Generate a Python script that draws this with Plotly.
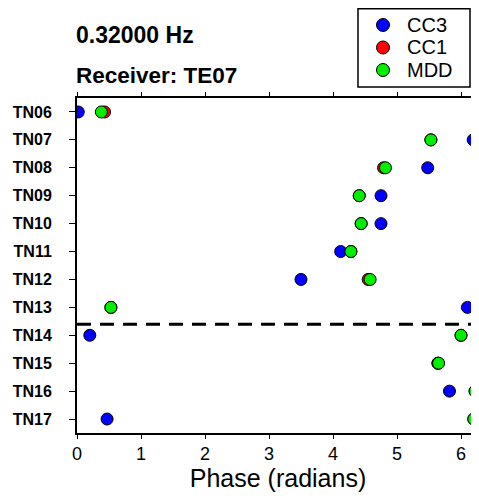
import plotly.graph_objects as go

# stations, top to bottom
stations = ["TN06", "TN07", "TN08", "TN09", "TN10", "TN11",
            "TN12", "TN13", "TN14", "TN15", "TN16", "TN17"]

# phase (radians) per method
cc3 = [0.02, 6.19, 5.48, 4.75, 4.75, 4.12, 3.50, 6.10, 0.20, 5.64, 5.82, 0.47]
cc1 = [0.43, 5.53, 4.79, 4.41, 4.44, 4.28, 4.55, 0.53, 6.00, 5.64, 6.22, 6.20]
mdd = [0.38, 5.53, 4.82, 4.41, 4.44, 4.28, 4.58, 0.53, 6.00, 5.65, 6.22, 6.20]

freq_label = "0.32000 Hz"
receiver_label = "Receiver: TE07"
split_pos = 7.6  # dashed separator between TN13 and TN14

# figure sits 8px in from the page corner (body margin), so size it to fit
L, T, B, H, W = 69, 90, 59, 484, 471
PH = H - T - B
PW = W - L

def py(pix):
    return (H - B - pix) / PH

def px(pix):
    return (pix - L) / PW

fig = go.Figure()

series = [("CC3", cc3, "#0000ff"), ("CC1", cc1, "#ff0000"), ("MDD", mdd, "#00ee00")]
for name, vals, col in series:
    fig.add_trace(go.Scatter(
        x=vals, y=stations, mode="markers", name=name, showlegend=False,
        marker=dict(size=12, color=col, line=dict(width=1, color="black")),
    ))

# dashed separator
fig.add_shape(type="line", xref="paper", x0=0, x1=1, yref="y",
              y0=split_pos, y1=split_pos,
              line=dict(color="black", width=3, dash="14px,9px"))

# legend, drawn by hand so the spacing matches
fig.add_shape(type="rect", xref="paper", yref="paper",
              x0=px(350), x1=px(462), y0=py(79), y1=py(0.75),
              line=dict(color="black", width=1.5), fillcolor="white")
for i, (name, vals, col) in enumerate(series):
    cy = 17 + i * 22.5
    fig.add_shape(type="circle", xref="paper", yref="paper",
                  x0=px(368.5), x1=px(381.5), y0=py(cy + 6.5), y1=py(cy - 6.5),
                  line=dict(color="black", width=1), fillcolor=col)
    fig.add_annotation(text=name, xref="paper", yref="paper",
                       x=px(397), y=py(cy), xanchor="left", yanchor="middle",
                       showarrow=False, font=dict(size=20, color="black"))

# header texts
fig.add_annotation(text="<b>" + freq_label + "</b>", xref="paper", yref="paper",
                   x=px(66), y=py(27), xanchor="left", yanchor="middle",
                   showarrow=False, font=dict(size=23, color="black"))
fig.add_annotation(text="<b>" + receiver_label + "</b>", xref="paper", yref="paper",
                   x=px(66), y=py(67), xanchor="left", yanchor="middle",
                   showarrow=False, font=dict(size=22.5, color="black"))

fig.update_layout(
    width=W, height=H,
    margin=dict(l=L, r=0, t=T, b=B),
    paper_bgcolor="white", plot_bgcolor="white",
    font=dict(family="Liberation Sans, Arial, sans-serif", color="black"),
    showlegend=False,
    xaxis=dict(range=[0, PW / 64], tickvals=[0, 1, 2, 3, 4, 5, 6],
               showgrid=False, zeroline=False, showline=True, linecolor="black",
               linewidth=1.5, mirror="ticks", ticks="outside", ticklen=4,
               tickcolor="black", tickfont=dict(size=18), automargin=False,
               title=dict(text="Phase (radians)", font=dict(size=25), standoff=8)),
    yaxis=dict(type="category", categoryarray=stations, categoryorder="array",
               range=[11.5, -0.5], showgrid=False, zeroline=False, showline=True,
               linecolor="black", linewidth=2, ticks="outside", ticklen=6,
               tickcolor="black", tickfont=dict(size=16), automargin=False,
               ticklabelstandoff=14, tickprefix="<b>", ticksuffix="</b>"),
)

fig.write_html("out.html")
